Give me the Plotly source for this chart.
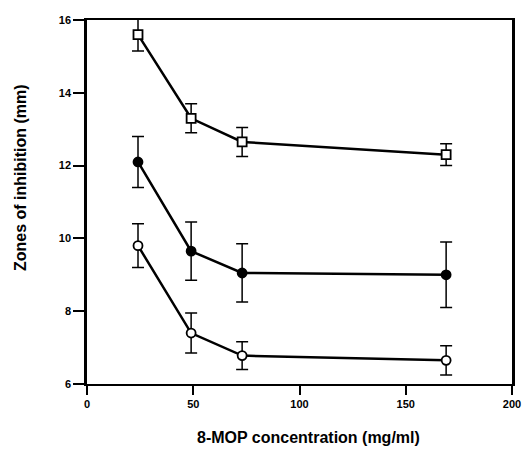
import plotly.graph_objects as go

conc = [24, 49, 73, 169]
sq_vals = [15.6, 13.3, 12.65, 12.3]
sq_err = [0.45, 0.4, 0.4, 0.3]
fc_vals = [12.1, 9.65, 9.05, 9.0]
fc_err = [0.7, 0.8, 0.8, 0.9]
oc_vals = [9.8, 7.4, 6.78, 6.65]
oc_err = [0.6, 0.55, 0.38, 0.4]

x_ticks = [0, 50, 100, 150, 200]
y_ticks = [6, 8, 10, 12, 14, 16]

fig = go.Figure()

def add(vals, errs, symbol, fill):
    fig.add_trace(go.Scatter(
        x=conc, y=vals, mode="lines+markers",
        line=dict(color="black", width=2.5),
        marker=dict(symbol=symbol, size=9, color=fill, line=dict(color="black", width=1.8)),
        error_y=dict(type="data", array=errs, visible=True, color="black", thickness=1.5, width=6),
        showlegend=False,
    ))

add(sq_vals, sq_err, "square", "white")
add(fc_vals, fc_err, "circle", "black")
add(oc_vals, oc_err, "circle", "white")

font = "Liberation Sans, Arial, sans-serif"
L, R, T, B = 87, 12, 20, 75
W, H = 524, 459
pw = W - L - R
ph = H - T - B

fig.update_layout(
    width=W, height=H,
    margin=dict(l=L, r=R, t=T, b=B),
    paper_bgcolor="white", plot_bgcolor="white",
    font=dict(family=font, color="black"),
    annotations=[
        dict(text="<b>8-MOP concentration (mg/ml)</b>",
             x=(308 - L) / pw, y=(H - B - 437) / ph, xref="paper", yref="paper",
             xanchor="center", yanchor="middle",
             showarrow=False, font=dict(size=16, family=font)),
        dict(text="<b>Zones of inhibition (mm)</b>", textangle=-90,
             x=(20 - L) / pw, y=(H - B - 178) / ph, xref="paper", yref="paper",
             xanchor="center", yanchor="middle",
             showarrow=False, font=dict(size=16, family=font)),
    ],
)

fig.update_xaxes(
    range=[0, 200], tickvals=x_ticks, ticktext=[f"<b>{v}</b>" for v in x_ticks],
    ticks="outside", ticklen=9, tickwidth=2, tickcolor="black",
    showline=True, linecolor="black", linewidth=2, mirror=True,
    showgrid=False, zeroline=False, automargin=False, ticklabeloverflow="allow",
    tickfont=dict(size=11, family=font),
)
fig.update_yaxes(
    range=[6, 16], tickvals=y_ticks, ticktext=[f"<b>{v}</b>" for v in y_ticks],
    ticks="outside", ticklen=11, tickwidth=2, tickcolor="black",
    showline=True, linecolor="black", linewidth=2.5, mirror=True,
    showgrid=False, zeroline=False, automargin=False, ticklabeloverflow="allow",
    tickfont=dict(size=11, family=font),
)
fig.write_html("out.html", config={"displayModeBar": False},
               post_script="document.body.style.margin='0';")
